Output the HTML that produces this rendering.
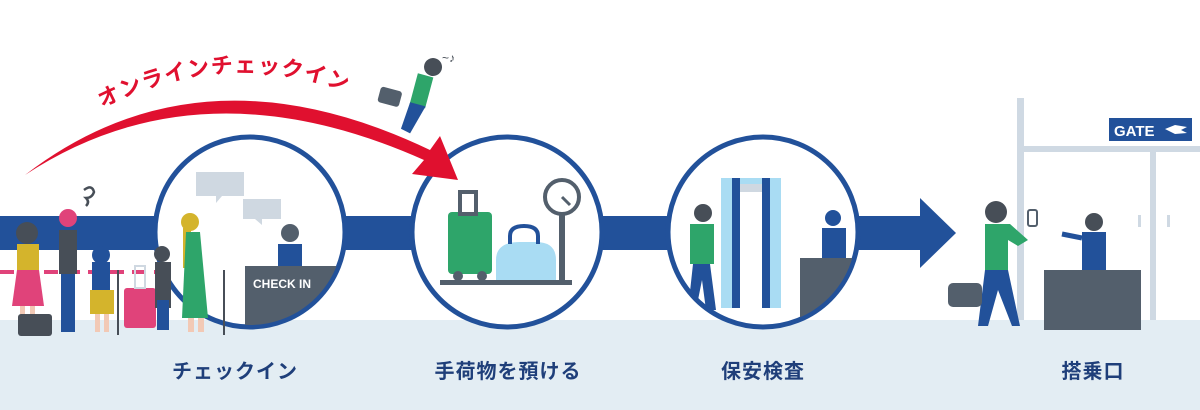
<!DOCTYPE html>
<html><head><meta charset="utf-8"><style>
html,body{margin:0;padding:0;background:#fff;}
svg{display:block;}
text{font-family:"Liberation Sans","Noto Sans CJK JP",sans-serif;}
</style></head><body>
<svg width="1200" height="410" viewBox="0 0 1200 410" xmlns="http://www.w3.org/2000/svg">
<defs>
<clipPath id="c1"><circle cx="250" cy="232" r="93"/></clipPath>
<clipPath id="c3"><circle cx="763" cy="232" r="93"/></clipPath>
</defs>
<rect width="1200" height="410" fill="#fff"/>
<rect x="0" y="320" width="1200" height="90" fill="#e3edf3"/>
<rect x="0" y="216" width="925" height="34" fill="#22519a"/>
<polygon points="920,198 956,233 920,268" fill="#22519a"/>
<line x1="0" y1="272" x2="230" y2="272" stroke="#e0437a" stroke-width="4" stroke-dasharray="14,8"/>
<rect x="1017" y="98" width="7" height="222" fill="#cfd9e3"/>
<rect x="1017" y="146" width="183" height="6" fill="#cfd9e3"/>
<rect x="1150" y="146" width="6" height="174" fill="#cfd9e3"/>
<rect x="1138" y="215" width="3" height="12" fill="#cfd9e3"/>
<rect x="1167" y="215" width="3" height="12" fill="#cfd9e3"/>
<rect x="1109" y="118" width="83" height="23" fill="#22519a"/>
<text x="1114" y="136" font-size="15" font-weight="bold" fill="#fff">GATE</text>
<path d="M1165 129 l10 -4 l12 2 l-6 3 l6 3 l-12 1z" fill="#fff"/>
<g fill="#fff" stroke="#22519a" stroke-width="5">
<circle cx="250" cy="232" r="95"/>
<circle cx="507" cy="232" r="95"/>
<circle cx="763" cy="232" r="95"/>
</g>
<g clip-path="url(#c1)">
<rect x="196" y="172" width="48" height="24" fill="#cfd8e1"/>
<polygon points="216,196 222,196 216,203" fill="#cfd8e1"/>
<rect x="243" y="199" width="38" height="20" fill="#cfd8e1"/>
<polygon points="255,219 262,219 262,225" fill="#cfd8e1"/>
<circle cx="290" cy="233" r="9" fill="#535f6c"/>
<rect x="278" y="244" width="24" height="22" fill="#22519a"/>
<rect x="245" y="266" width="100" height="64" fill="#535f6c"/>
<text x="253" y="288" font-size="12" font-weight="bold" fill="#fff">CHECK IN</text>
</g>
<circle cx="190" cy="222" r="9" fill="#d4b42c"/>
<rect x="183" y="228" width="8" height="40" fill="#d4b42c"/>
<polygon points="186,232 200,232 208,318 182,318" fill="#2ea56a"/>
<rect x="188" y="318" width="6" height="14" fill="#f2c9b5"/>
<rect x="198" y="318" width="6" height="14" fill="#f2c9b5"/>
<circle cx="27" cy="233" r="11" fill="#474e57"/>
<rect x="17" y="244" width="22" height="28" fill="#d4b42c"/>
<polygon points="17,270 39,270 44,306 12,306" fill="#e0437a"/>
<rect x="20" y="306" width="5" height="24" fill="#f2c9b5"/><rect x="30" y="306" width="5" height="24" fill="#f2c9b5"/>
<rect x="18" y="314" width="34" height="22" rx="3" fill="#474e57"/>
<circle cx="68" cy="218" r="9" fill="#e0437a"/>
<rect x="59" y="230" width="18" height="44" fill="#474e57"/>
<rect x="61" y="274" width="14" height="58" fill="#22519a"/>
<path d="M84 190 q8 -6 10 2 q-2 6 -8 6 q4 4 0 8" fill="none" stroke="#474e57" stroke-width="2.5"/>
<circle cx="101" cy="255" r="9" fill="#22519a"/>
<rect x="92" y="262" width="18" height="30" fill="#22519a"/>
<rect x="90" y="290" width="24" height="24" fill="#d4b42c"/>
<rect x="95" y="314" width="5" height="18" fill="#f2c9b5"/><rect x="104" y="314" width="5" height="18" fill="#f2c9b5"/>
<line x1="118" y1="270" x2="118" y2="335" stroke="#474e57" stroke-width="2"/>
<rect x="124" y="288" width="32" height="40" rx="3" fill="#e0437a"/>
<rect x="135" y="266" width="10" height="22" fill="none" stroke="#cfd8e1" stroke-width="2"/>
<circle cx="162" cy="254" r="8" fill="#474e57"/>
<rect x="155" y="262" width="16" height="46" fill="#474e57"/>
<rect x="157" y="300" width="12" height="30" fill="#22519a"/>
<line x1="224" y1="270" x2="224" y2="335" stroke="#474e57" stroke-width="2"/>
<rect x="448" y="212" width="44" height="62" rx="4" fill="#2ea56a"/>
<rect x="460" y="192" width="16" height="22" fill="none" stroke="#535f6c" stroke-width="4"/>
<circle cx="458" cy="276" r="5" fill="#535f6c"/><circle cx="482" cy="276" r="5" fill="#535f6c"/>
<path d="M496 280 v-20 q0 -18 24 -18 h16 q20 0 20 18 v20z" fill="#a9dcf3"/>
<path d="M510 244 v-8 q0 -10 14 -10 q14 0 14 10 v8" fill="none" stroke="#22519a" stroke-width="4"/>
<circle cx="562" cy="197" r="17" fill="#fff" stroke="#535f6c" stroke-width="4"/>
<line x1="562" y1="197" x2="570" y2="205" stroke="#535f6c" stroke-width="3"/>
<rect x="559" y="214" width="6" height="68" fill="#535f6c"/>
<rect x="440" y="280" width="132" height="5" fill="#535f6c"/>
<g clip-path="url(#c3)">
<rect x="721" y="178" width="60" height="130" fill="#a9dcf3"/>
<rect x="733" y="188" width="36" height="120" fill="#fff"/>
<rect x="732" y="178" width="8" height="130" fill="#22519a"/>
<rect x="762" y="178" width="8" height="130" fill="#22519a"/>
<rect x="740" y="184" width="22" height="8" fill="#cfd8e1"/>
<circle cx="703" cy="213" r="9" fill="#474e57"/>
<rect x="690" y="224" width="24" height="40" fill="#2ea56a"/>
<polygon points="693,264 710,264 716,310 706,310 702,280 696,310 688,310" fill="#22519a"/>
<circle cx="833" cy="218" r="8" fill="#22519a"/>
<rect x="822" y="228" width="24" height="30" fill="#22519a"/>
<rect x="800" y="258" width="70" height="60" fill="#535f6c"/>
</g>
<circle cx="996" cy="212" r="11" fill="#474e57"/>
<polygon points="985,224 1010,224 1028,240 1018,246 1008,240 1008,270 985,270" fill="#2ea56a"/>
<rect x="1028" y="210" width="9" height="16" rx="2" fill="#fff" stroke="#535f6c" stroke-width="2"/>
<polygon points="985,270 1008,270 1020,326 1012,326 998,290 988,326 978,326" fill="#22519a"/>
<rect x="948" y="283" width="34" height="24" rx="5" fill="#535f6c"/>
<circle cx="1094" cy="222" r="9" fill="#474e57"/>
<rect x="1082" y="232" width="24" height="38" fill="#22519a"/>
<line x1="1082" y1="238" x2="1062" y2="234" stroke="#22519a" stroke-width="5"/>
<rect x="1044" y="270" width="97" height="60" fill="#535f6c"/>
<path d="M25 175 Q200 40 430 150 L440 136 L458 180 L412 174 L424 160 Q200 60 25 175z" fill="#e0102f"/>
<path id="ap" d="M102 108 Q235 40 372 102" fill="none"/>
<text font-size="22" font-weight="bold" fill="#e0102f" letter-spacing="1"><textPath href="#ap">オンラインチェックイン</textPath></text>
<g transform="rotate(15 410 95)">
<circle cx="425" cy="62" r="9" fill="#474e57"/>
<rect x="412" y="72" width="16" height="32" fill="#2ea56a"/>
<polygon points="412,102 428,102 420,132 410,130" fill="#22519a"/>
<rect x="380" y="94" width="22" height="16" rx="3" fill="#535f6c"/>
</g>
<text x="442" y="62" font-size="12" fill="#474e57">~♪</text>
<g font-size="20" font-weight="bold" fill="#1f3f7a" text-anchor="middle" letter-spacing="1">
<text x="235" y="378">チェックイン</text>
<text x="508" y="378">手荷物を預ける</text>
<text x="763" y="378">保安検査</text>
<text x="1093" y="378">搭乗口</text>
</g>
</svg>
</body></html>
